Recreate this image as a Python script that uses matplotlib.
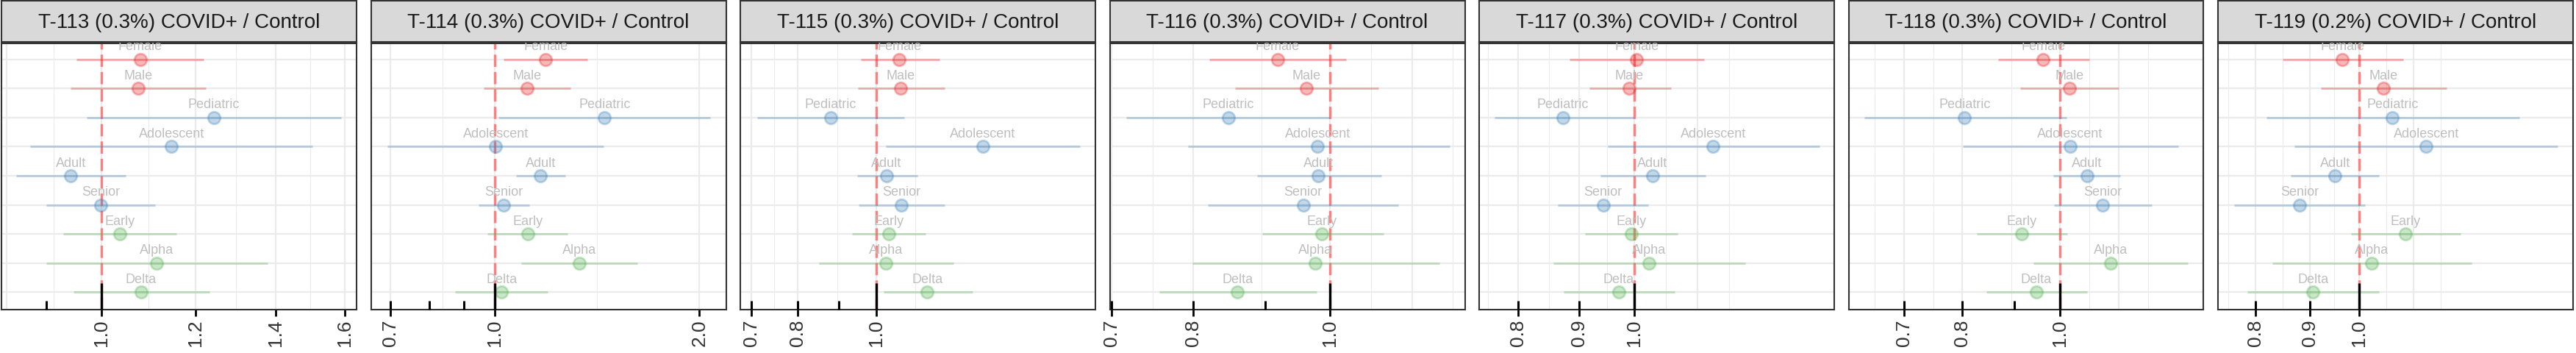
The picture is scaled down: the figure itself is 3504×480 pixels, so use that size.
import numpy as np
import matplotlib
matplotlib.use("Agg")
import matplotlib.pyplot as plt
from matplotlib.colors import to_rgba
from matplotlib.ticker import NullFormatter, NullLocator, FixedLocator, FixedFormatter

plt.rcParams['font.family'] = ['Liberation Sans', 'DejaVu Sans']
plt.rcParams['lines.scale_dashes'] = False

# Data
panels = ['T-113 (0.3%) COVID+ / Control', 'T-114 (0.3%) COVID+ / Control',
          'T-115 (0.3%) COVID+ / Control', 'T-116 (0.3%) COVID+ / Control',
          'T-117 (0.3%) COVID+ / Control', 'T-118 (0.3%) COVID+ / Control',
          'T-119 (0.2%) COVID+ / Control']
groups = ['Female', 'Male', 'Pediatric', 'Adolescent', 'Adult', 'Senior',
          'Early', 'Alpha', 'Delta']
group_kind = ['sex', 'sex', 'age', 'age', 'age', 'age', 'var', 'var', 'var']

est = [
    [1.078, 1.074, 1.243, 1.145, 0.943, 0.999, 1.036, 1.113, 1.080],
    [1.187, 1.114, 1.450, 1.002, 1.167, 1.030, 1.117, 1.331, 1.022],
    [1.068, 1.073, 0.878, 1.355, 1.030, 1.075, 1.036, 1.029, 1.157],
    [0.918, 0.962, 0.847, 0.980, 0.981, 0.957, 0.987, 0.976, 0.860],
    [1.005, 0.991, 0.872, 1.164, 1.036, 0.942, 0.994, 1.029, 0.971],
    [0.962, 1.021, 0.804, 1.023, 1.063, 1.102, 0.916, 1.122, 0.947],
    [0.965, 1.054, 1.075, 1.156, 0.950, 0.880, 1.106, 1.028, 0.906],
]
lo = [
    [0.954, 0.943, 0.973, 0.872, 0.849, 0.900, 0.929, 0.899, 0.948],
    [1.029, 0.962, 1.012, 0.694, 1.073, 0.946, 0.975, 1.093, 0.874],
    [0.958, 0.949, 0.712, 1.029, 0.947, 0.952, 0.933, 0.850, 1.021],
    [0.821, 0.856, 0.717, 0.793, 0.888, 0.819, 0.895, 0.799, 0.757],
    [0.883, 0.917, 0.764, 0.951, 0.937, 0.863, 0.910, 0.856, 0.873],
    [0.868, 0.912, 0.640, 0.801, 0.984, 0.986, 0.827, 0.941, 0.845],
    [0.849, 0.921, 0.819, 0.870, 0.863, 0.764, 0.983, 0.830, 0.786],
]
hi = [
    [1.219, 1.223, 1.588, 1.503, 1.048, 1.110, 1.156, 1.379, 1.233],
    [1.368, 1.292, 2.076, 1.447, 1.270, 1.123, 1.279, 1.623, 1.195],
    [1.198, 1.216, 1.084, 1.786, 1.125, 1.216, 1.151, 1.247, 1.316],
    [1.027, 1.082, 1.000, 1.215, 1.087, 1.118, 1.091, 1.195, 0.978],
    [1.145, 1.074, 1.000, 1.428, 1.147, 1.028, 1.087, 1.239, 1.082],
    [1.069, 1.143, 1.014, 1.309, 1.147, 1.233, 1.016, 1.339, 1.063],
    [1.100, 1.209, 1.414, 1.535, 1.045, 1.014, 1.245, 1.275, 1.044],
]

# Axis settings per panel
xlims = [(0.825, 1.636), (0.656, 2.19), (0.679, 1.868), (0.698, 1.246),
         (0.742, 1.47), (0.617, 1.387), (0.738, 1.587)]
tick_vals = [[1.0, 1.2, 1.4, 1.6], [0.7, 1.0, 2.0], [0.7, 0.8, 1.0],
             [0.7, 0.8, 1.0], [0.8, 0.9, 1.0], [0.7, 0.8, 1.0], [0.8, 0.9, 1.0]]
grid_major = [[1 / 1.2, 1.0, 1.2, 1.4, 1.6], [0.7, 1.0, 2.0], [0.7, 0.8, 1.0],
              [0.7, 0.8, 1.0, 1.143], [0.8, 0.9, 1.0, 1.13],
              [0.7, 0.8, 1.0, 1.143], [0.8, 0.9, 1.0, 1.125]]
inner_ticks = [[0.9], [0.7, 0.8, 0.9], [0.7, 0.8, 0.9], [0.7, 0.8, 0.9],
               [0.8, 0.9], [0.7, 0.8, 0.9], [0.8, 0.9]]

colors = {'sex': '#E41A1C', 'age': '#377EB8', 'var': '#4DAF4A'}

W, H = 3504, 480
fig = plt.figure(figsize=(W / 100, H / 100), dpi=100)

for i, title in enumerate(panels):
    left = 2 + i * 502.5
    ax = fig.add_axes([left / W, (H - 421) / H, 483 / W, 362 / H])
    sax = fig.add_axes([left / W, (H - 57) / H, 483 / W, 56 / H])
    sax.set_facecolor('#D9D9D9')
    sax.set_xticks([])
    sax.set_yticks([])
    for s in sax.spines.values():
        s.set_color('#333333')
        s.set_linewidth(1.5)
    sax.text(0.5, 0.47, title, ha='center', va='center', fontsize=20,
             color='#1A1A1A', transform=sax.transAxes)

    ax.set_xscale('log')
    ax.set_xlim(*xlims[i])
    ax.set_ylim(len(groups) + 0.6, 0.45)

    # grid
    gm = grid_major[i]
    ext = [gm[0] ** 2 / gm[1]] + gm + [gm[-1] ** 2 / gm[-2]]
    minors = [np.sqrt(a * b) for a, b in zip(ext[:-1], ext[1:])]
    for g in gm:
        ax.axvline(g, color='#EBEBEB', lw=1.6, zorder=0)
    for g in minors:
        ax.axvline(g, color='#EBEBEB', lw=0.8, zorder=0)
    for r in range(1, len(groups) + 1):
        ax.axhline(r, color='#EBEBEB', lw=1.6, zorder=0)

    ax.axvline(1.0, color='#FF7F7F', lw=2.4, ls=(0, (12, 5)), zorder=1)

    for j, g in enumerate(groups):
        c = colors[group_kind[j]]
        y = j + 1
        ax.plot([lo[i][j], hi[i][j]], [y, y], color=c, alpha=0.3, lw=2.2,
                solid_capstyle='butt', zorder=2)
        ax.plot(est[i][j], y, 'o', ms=12, mfc=to_rgba(c, 0.3),
                mec=to_rgba(c, 0.3), mew=2, zorder=3)
        ax.annotate(g, (est[i][j], y), xytext=(0, 17), textcoords='offset pixels',
                    ha='center', va='center', fontsize=13, color='#BEBEBE', zorder=4)

    # inner tick marks
    trans = ax.get_xaxis_transform()
    for t in inner_ticks[i]:
        ax.plot([t, t], [0, 12 / 362], color='black', lw=2.2, transform=trans,
                solid_capstyle='butt', zorder=5, clip_on=False)
    ax.plot([1.0, 1.0], [0, 36 / 362], color='black', lw=2.4, transform=trans,
            solid_capstyle='butt', zorder=5, clip_on=False)

    ax.xaxis.set_major_locator(FixedLocator(tick_vals[i]))
    ax.xaxis.set_major_formatter(FixedFormatter(['%.1f' % v for v in tick_vals[i]]))
    ax.xaxis.set_minor_locator(NullLocator())
    ax.xaxis.set_minor_formatter(NullFormatter())
    ax.tick_params(axis='x', length=6.5, width=2, color='black', labelsize=19,
                   labelcolor='#333333', labelrotation=90, pad=3)
    ax.set_yticks([])
    for s in ax.spines.values():
        s.set_color('#333333')
        s.set_linewidth(1.5)

fig.savefig('out.png', dpi=100)
